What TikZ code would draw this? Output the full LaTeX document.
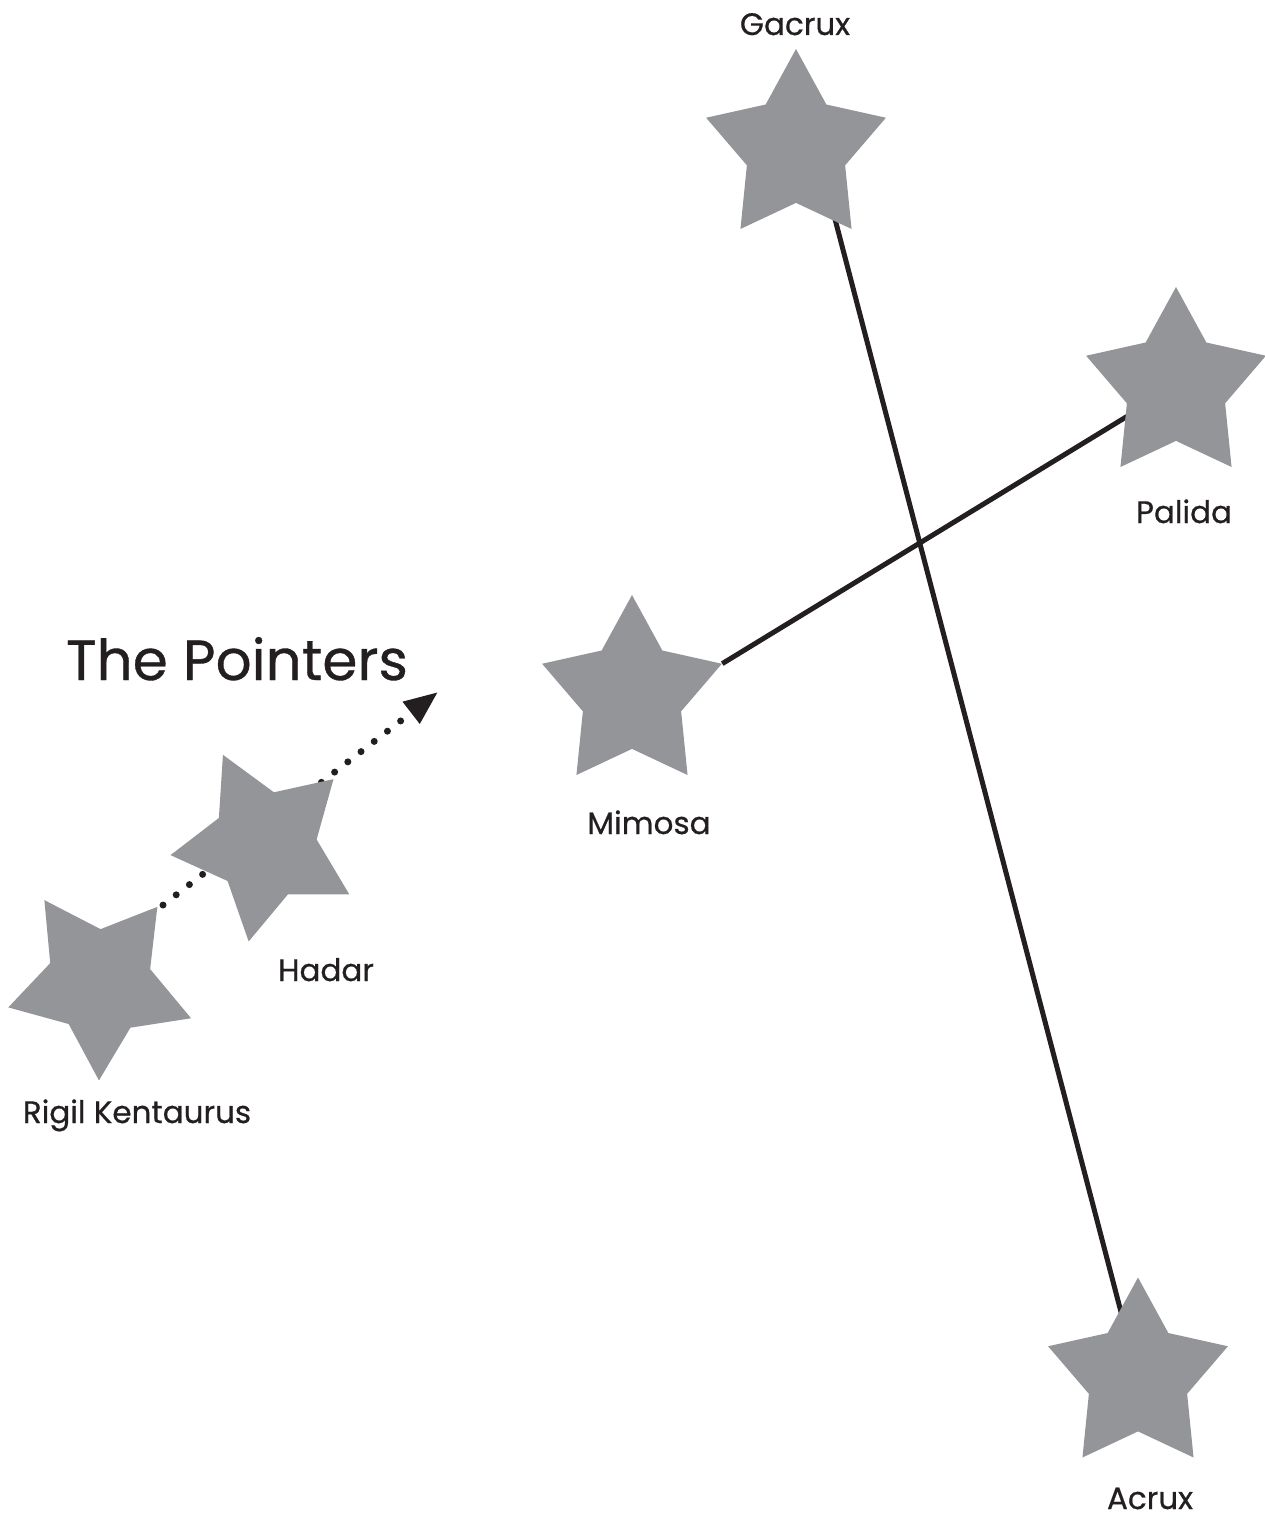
\documentclass[tikz,border=0pt]{standalone}
\usepackage{fontspec}
\setmainfont{Poppins}
\newfontface\labelface{Poppins}[FakeBold=0.6]
\usetikzlibrary{shapes.geometric,arrows.meta}
\definecolor{stargray}{RGB}{147,149,152}
\definecolor{ink}{RGB}{35,31,32}
\pgfdeclarelayer{bg}
\pgfsetlayers{bg,main}
\begin{document}
\begin{tikzpicture}[x=1pt,y=-1pt,
  starnode/.style={star, star points=5, star point ratio=1.83, minimum size=199pt, inner sep=0pt, fill=stargray, draw=none, xscale=0.95},
  starname/.style={font=\labelface\fontsize{31}{31}\selectfont, text=ink, anchor=base, inner sep=0pt},
  titletext/.style={font=\labelface\fontsize{56.5}{56.5}\selectfont, text=ink, anchor=base, inner sep=0pt},
  conn/.style={draw=ink, line width=5pt},
  pointer/.style={draw=ink, line width=7pt, line cap=round, dash pattern=on 0pt off 16.7pt, -{Triangle[length=34pt,width=26pt]}}
]
\useasboundingbox (0,0) rectangle (1265,1520);
% stars
\node[starnode] (gacrux) at (796,148.5) {};
\node[starnode] (palida) at (1176,386.5) {};
\node[starnode] (mimosa) at (632,694.5) {};
\node[rotate=25, starnode] (hadar) at (265,845) {};
\node[rotate=34, starnode] (rigil) at (100,982.6) {};
\node[starnode] (acrux) at (1138,1377) {};
% free ends
\coordinate (gtail) at (830,200);
\coordinate (pstart) at (136.6,925.5);
\coordinate (pend) at (438,692);
% connectors behind the stars
\begin{pgfonlayer}{bg}
\draw[conn] (gtail) -- (acrux.center);
\draw[conn] (mimosa.outer point 5) -- (palida.center);
\draw[pointer] (pstart) -- (pend);
\end{pgfonlayer}
% labels
\node[starname] (lgacrux) at (795,35) {Gacrux};
\node[starname] (lpalida) at (1184,523) {Palida};
\node[starname] (lmimosa) at (649,834) {Mimosa};
\node[starname] (lhadar) at (326,981) {Hadar};
\node[starname] (lrigil) at (137,1123) {Rigil Kentaurus};
\node[starname] (lacrux) at (1150,1509) {Acrux};
\node[titletext] (title) at (237,680) {The Pointers};
\end{tikzpicture}
\end{document}
